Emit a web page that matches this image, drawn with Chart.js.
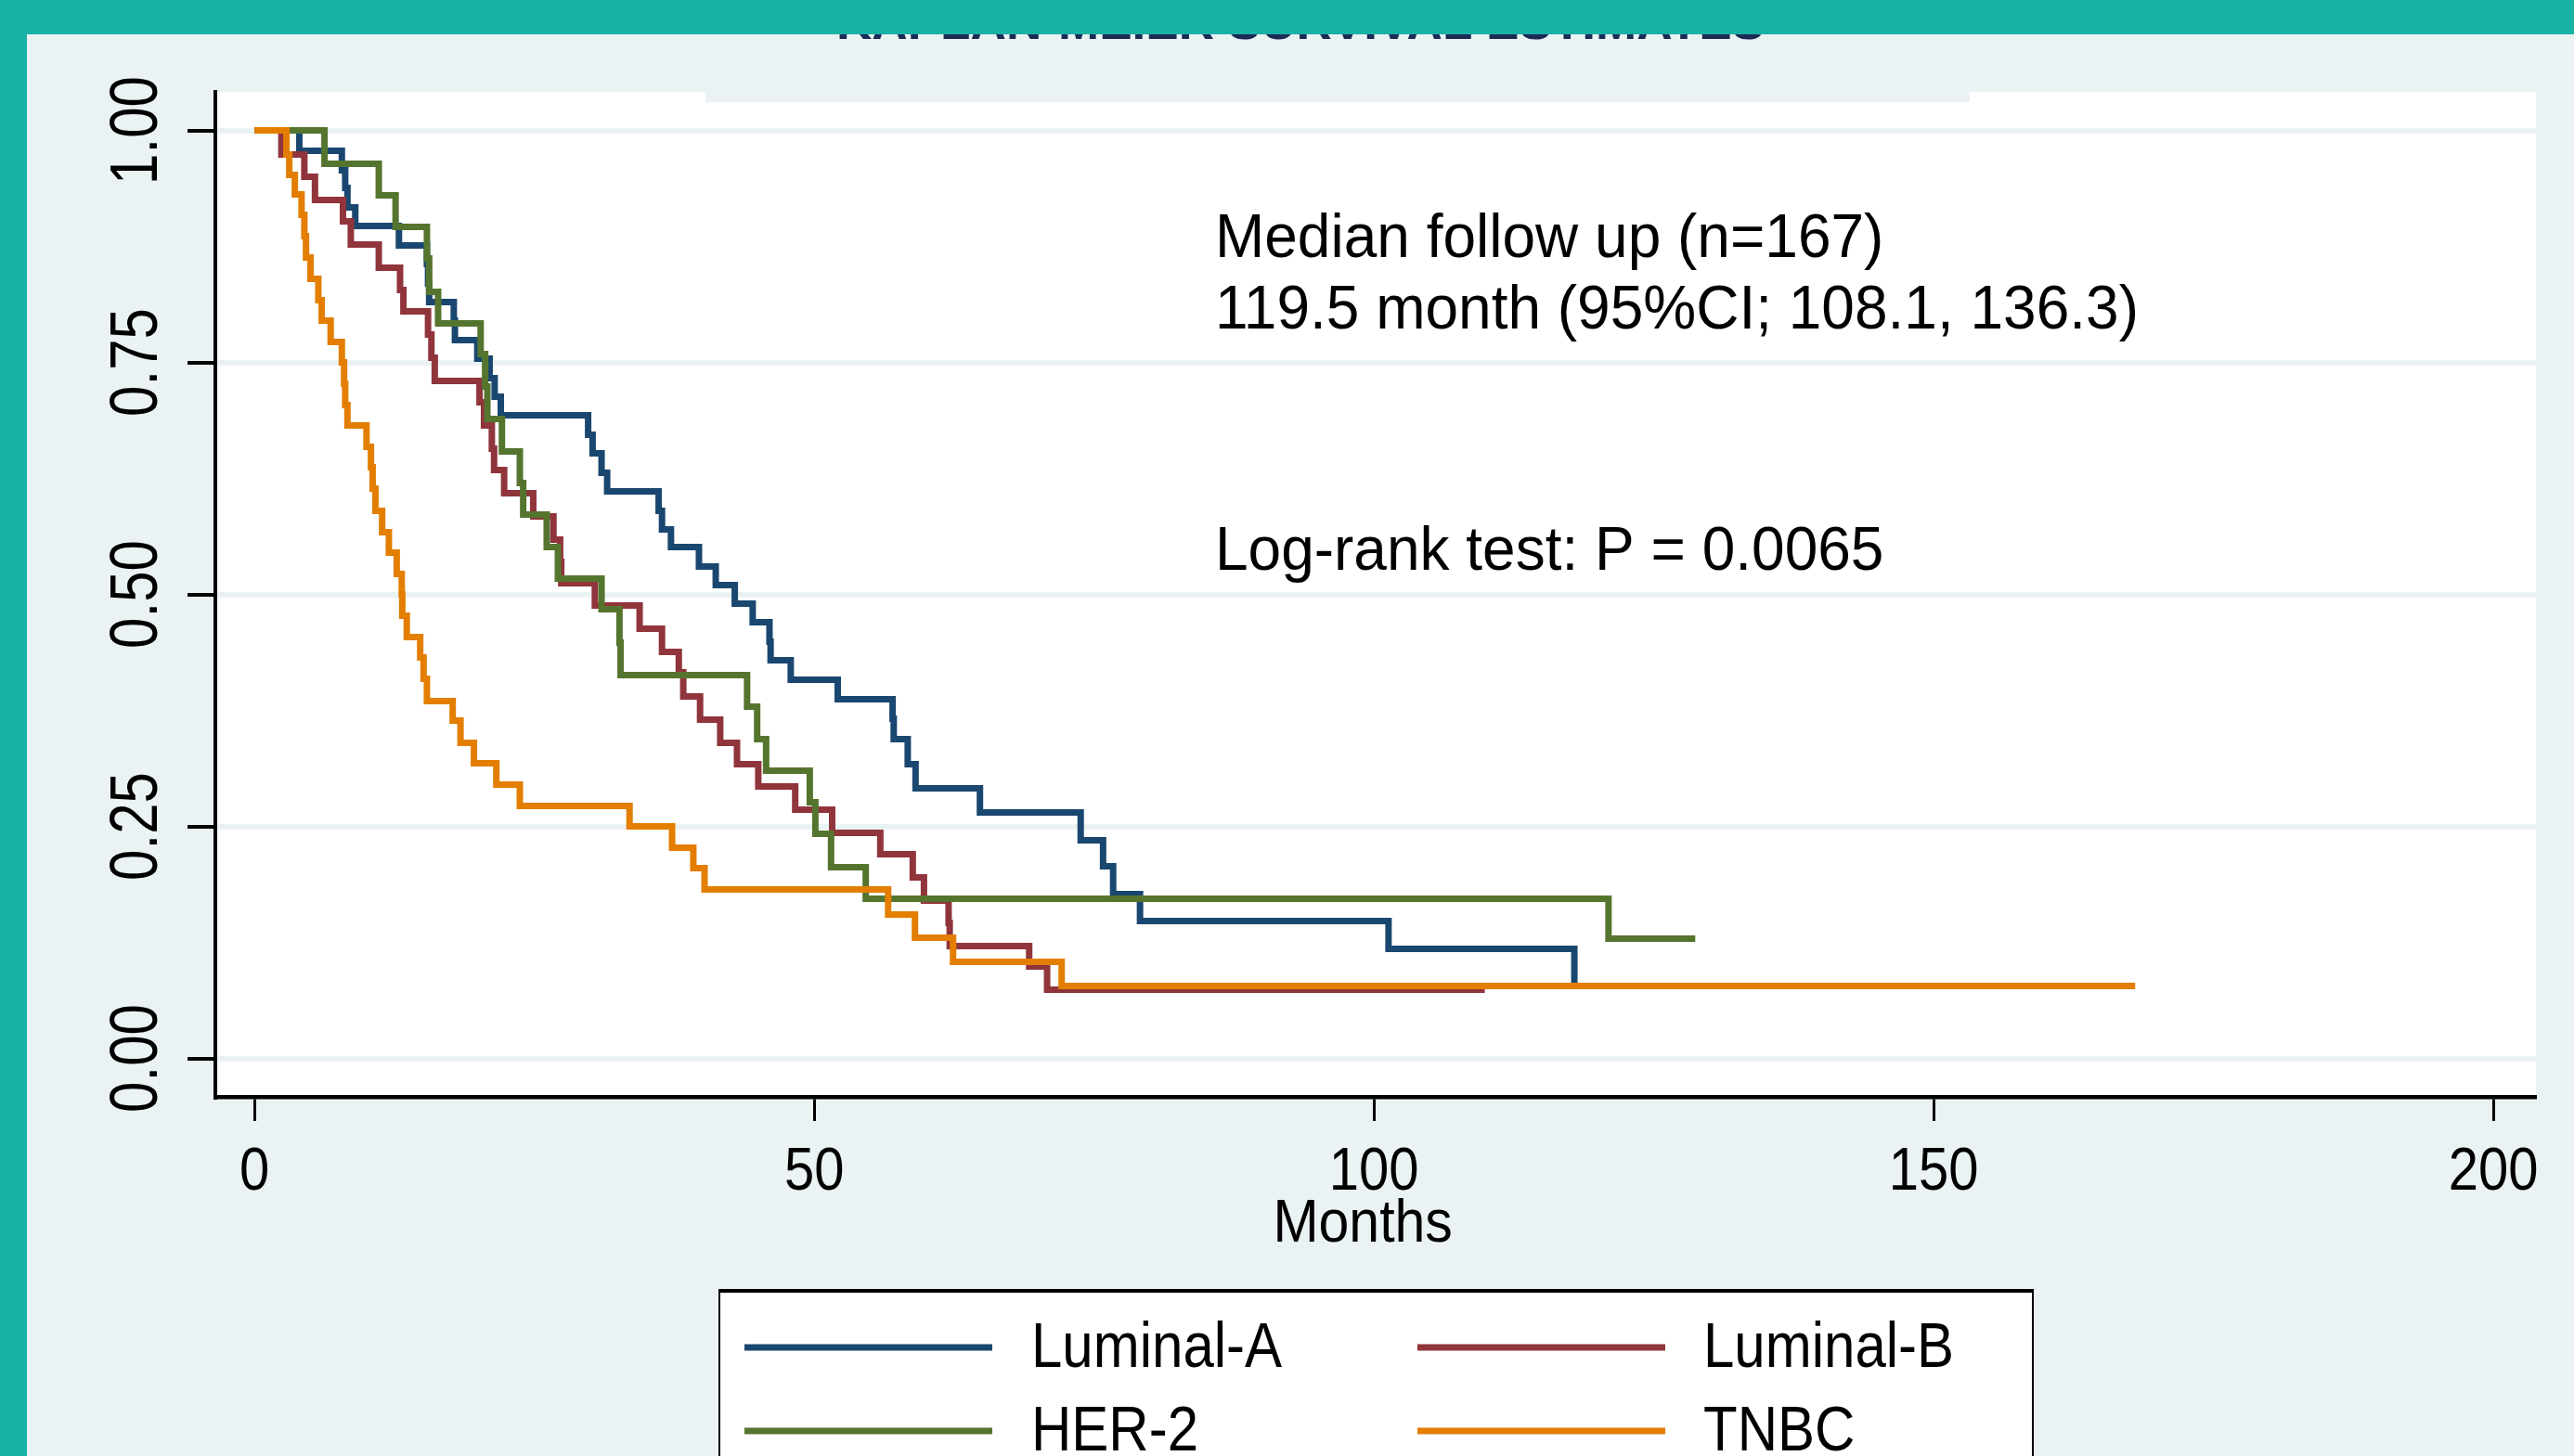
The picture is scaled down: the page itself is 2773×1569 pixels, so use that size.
<!DOCTYPE html>
<html>
<head>
<meta charset="utf-8">
<title>Kaplan-Meier survival by subtype</title>
<script src="https://cdn.jsdelivr.net/npm/chart.js@4.4.1/dist/chart.umd.min.js"></script>
<style>
    html, body { margin: 0; padding: 0; width: 2773px; height: 1569px; overflow: hidden; background: #eaf2f3; }
    #wrap { position: relative; width: 2773px; height: 1569px; }
    #km { position: absolute; left: 0; top: 0; z-index: 1; }
    .band { position: absolute; background: #17b1a5; z-index: 2; }
</style>
</head>
<body>
<div id="wrap">
    <canvas id="km" width="2773" height="1569"></canvas>
    <div class="band" style="left:0;top:0;width:2773px;height:37px"></div>
    <div class="band" style="left:0;top:0;width:29px;height:1569px"></div>
</div>
<script>
// values (months, survival probability)
const groups = ['Luminal-A', 'Luminal-B', 'HER-2', 'TNBC'];

const lumATime = [0, 4.0, 7.8, 8.1, 8.3, 9.0, 12.9, 15.4, 15.5, 15.6, 17.8, 17.9, 19.9, 21.0, 21.45, 22.0,
    29.8, 30.2, 31.0, 31.5, 36.1, 36.4, 37.2, 39.7, 41.2, 42.9, 44.5, 46.0, 46.1, 47.9, 52.1, 57.0, 57.1,
    58.35, 59.05, 64.8, 73.8, 75.8, 76.7, 79.1, 101.3, 117.9];
const lumASurv = [1, 0.978, 0.957, 0.938, 0.917, 0.897, 0.876, 0.856, 0.835, 0.815, 0.795, 0.774, 0.754, 0.733, 0.713, 0.693,
    0.672, 0.652, 0.631, 0.611, 0.590, 0.570, 0.551, 0.530, 0.510, 0.490, 0.470, 0.449, 0.429, 0.408, 0.387, 0.366, 0.344,
    0.317, 0.291, 0.265, 0.235, 0.207, 0.177, 0.148, 0.118, 0.078];

const lumBTime = [0, 2.4, 4.45, 5.4, 7.9, 8.6, 11.1, 13.0, 13.3, 15.5, 15.8, 16.1, 20.1, 20.5, 21.2, 21.4, 22.3,
    24.9, 26.7, 27.3, 27.4, 30.4, 34.4, 36.4, 37.9, 38.3, 39.8, 41.6, 43.1, 45.0, 48.3, 51.6, 55.9, 58.8, 59.8,
    62.0, 62.1, 69.2, 70.8, 109.9];
const lumBSurv = [1, 0.974, 0.950, 0.925, 0.902, 0.877, 0.852, 0.828, 0.805, 0.780, 0.755, 0.730, 0.707, 0.682, 0.657, 0.634, 0.609,
    0.584, 0.559, 0.535, 0.512, 0.488, 0.463, 0.438, 0.416, 0.390, 0.365, 0.340, 0.317, 0.293, 0.268, 0.243, 0.220, 0.195, 0.170,
    0.146, 0.121, 0.099, 0.074, 0.074];

const her2Time = [0, 6.25, 11.1, 12.6, 15.4, 15.6, 16.4, 20.2, 20.6, 20.8, 22.1, 23.7, 24.0, 26.1, 27.1, 31.0,
    32.6, 32.7, 44.0, 44.9, 45.7, 49.6, 50.1, 51.5, 54.6, 120.95, 128.7];
const her2Surv = [1, 0.964, 0.930, 0.896, 0.862, 0.826, 0.792, 0.759, 0.724, 0.689, 0.654, 0.620, 0.586, 0.551, 0.517, 0.484,
    0.448, 0.413, 0.379, 0.344, 0.310, 0.276, 0.242, 0.206, 0.172, 0.129, 0.129];

const tnbcTime = [0, 2.85, 3.1, 3.6, 4.2, 4.45, 4.6, 5.0, 5.7, 6.0, 6.8, 7.8, 8.0, 8.1, 8.3, 10.0, 10.4, 10.55, 10.8,
    11.4, 12.0, 12.7, 13.15, 13.2, 13.6, 14.8, 15.1, 15.4, 17.7, 18.4, 19.6, 21.6, 23.7, 33.5, 37.3, 39.2, 40.2,
    56.6, 59.0, 62.4, 72.1, 168.0];
const tnbcSurv = [1, 0.974, 0.952, 0.931, 0.909, 0.886, 0.863, 0.840, 0.817, 0.795, 0.772, 0.750, 0.727, 0.704, 0.682, 0.659, 0.637, 0.614, 0.590,
    0.567, 0.545, 0.522, 0.500, 0.477, 0.454, 0.432, 0.409, 0.385, 0.364, 0.340, 0.318, 0.295, 0.272, 0.250, 0.227, 0.205, 0.182,
    0.155, 0.130, 0.104, 0.078, 0.078];

const xTicks = [0, 50, 100, 150, 200];
const yTicks = [0, 0.25, 0.5, 0.75, 1];
const noteLines = ['Median follow up (n=167)', '119.5 month (95%CI; 108.1, 136.3)', 'Log-rank test: P = 0.0065'];
const noteY = [0.864, 0.787, 0.527];
const noteX = 85.8;

const colours = ['#1a476f', '#90353b', '#55752f', '#e37e00'];
const FONT = '"Liberation Sans", Arial, Helvetica, sans-serif';

function toPoints(times, surv) {
    return times.map((t, i) => ({ x: t, y: surv[i] }));
}

const series = [
    toPoints(lumATime, lumASurv),
    toPoints(lumBTime, lumBSurv),
    toPoints(her2Time, her2Surv),
    toPoints(tnbcTime, tnbcSurv)
];

// text a little taller than wide, like the reference
function tallText(ctx, text, x, y, size, sy, align, rot) {
    ctx.save();
    ctx.translate(x, y);
    if (rot) ctx.rotate(rot);
    ctx.scale(1, sy);
    ctx.font = size + 'px ' + FONT;
    ctx.textAlign = align;
    ctx.textBaseline = 'middle';
    ctx.fillText(text, 0, 0);
    ctx.restore();
}

// plot region, title strip, tick labels, notes and legend
const kmDecor = {
    id: 'kmDecor',
    beforeDraw(chart) {
        const ctx = chart.ctx;
        const a = chart.chartArea;
        ctx.save();
        ctx.fillStyle = '#ffffff';
        ctx.fillRect(a.left, a.top, a.right - a.left, a.bottom - a.top);
        ctx.fillStyle = '#eaf2f3';
        ctx.fillRect(760, a.top, 1362, 11);
        ctx.restore();
    },
    afterDraw(chart) {
        const ctx = chart.ctx;
        const xs = chart.scales.x;
        const ys = chart.scales.y;
        ctx.save();

        // title, mostly hidden under the top band
        ctx.fillStyle = '#1c2b55';
        ctx.font = 'bold 56px ' + FONT;
        const title = 'KAPLAN-MEIER SURVIVAL ESTIMATES';
        const w = ctx.measureText(title).width;
        ctx.font = 'bold ' + (56 * 1000 / w).toFixed(1) + 'px ' + FONT;
        ctx.textAlign = 'center';
        ctx.textBaseline = 'alphabetic';
        ctx.fillText(title, 1401, 42);

        ctx.fillStyle = '#000';
        // y tick labels, rotated
        yTicks.forEach(v => {
            tallText(ctx, v.toFixed(2), 149, ys.getPixelForValue(v), 60, 1.2, 'center', -Math.PI / 2);
        });
        // x tick labels
        xTicks.forEach(v => {
            tallText(ctx, String(v), xs.getPixelForValue(v), 1264, 58, 1.12, 'center', 0);
        });
        // x axis title
        tallText(ctx, 'Months', xs.getPixelForValue(99), 1320, 59, 1.1, 'center', 0);

        // notes inside the plot
        ctx.font = '64px ' + FONT;
        ctx.textAlign = 'left';
        ctx.textBaseline = 'alphabetic';
        noteLines.forEach((t, i) => {
            ctx.save();
            ctx.translate(xs.getPixelForValue(noteX), ys.getPixelForValue(noteY[i]));
            ctx.scale(1, 1.03);
            ctx.fillText(t, 0, 0);
            ctx.restore();
        });

        // legend box
        ctx.fillStyle = '#ffffff';
        ctx.fillRect(775, 1390, 1415, 260);
        ctx.strokeStyle = '#000';
        ctx.lineWidth = 2;
        ctx.strokeRect(775, 1390, 1415, 260);
        ctx.lineWidth = 4;
        ctx.beginPath();
        ctx.moveTo(775, 1391);
        ctx.lineTo(2190, 1391);
        ctx.stroke();

        const lineX = [802, 1527];
        const textX = [1111, 1835];
        const rowY = [1452, 1542];
        chart.data.datasets.forEach((ds, i) => {
            const c = i % 2;
            const r = Math.floor(i / 2);
            ctx.strokeStyle = ds.borderColor;
            ctx.lineWidth = 7;
            ctx.beginPath();
            ctx.moveTo(lineX[c], rowY[r]);
            ctx.lineTo(lineX[c] + 267, rowY[r]);
            ctx.stroke();
            ctx.fillStyle = '#000';
            tallText(ctx, ds.label, textX[c], rowY[r] + 2, 60, 1.14, 'left', 0);
        });

        ctx.restore();
    }
};

const ctx = document.getElementById('km').getContext('2d');
new Chart(ctx, {
    type: 'line',
    data: {
        datasets: groups.map((g, i) => ({
            label: g,
            data: series[i],
            borderColor: colours[i],
            backgroundColor: colours[i],
            borderWidth: 7,
            pointRadius: 0,
            stepped: true,
            fill: false,
            borderCapStyle: 'butt',
            borderJoinStyle: 'miter',
            order: groups.length - i
        }))
    },
    options: {
        responsive: false,
        animation: false,
        devicePixelRatio: 1,
        layout: { padding: { left: 0, top: 99, right: 41, bottom: 357 } },
        plugins: {
            legend: { display: false },
            tooltip: { enabled: false },
            title: { display: false }
        },
        scales: {
            x: {
                type: 'linear',
                min: -3.5,
                max: 203.8,
                afterBuildTicks: s => { s.ticks = xTicks.map(v => ({ value: v })); },
                afterFit: s => { s.height = 30; },
                grid: {
                    drawOnChartArea: false,
                    drawTicks: true,
                    tickLength: 26,
                    tickColor: '#000',
                    tickWidth: 3
                },
                border: { display: true, color: '#000', width: 4.5 },
                ticks: { display: false }
            },
            y: {
                type: 'linear',
                min: -0.0415,
                max: 1.0415,
                afterBuildTicks: s => { s.ticks = yTicks.map(v => ({ value: v })); },
                afterFit: s => { s.width = 232; },
                grid: {
                    color: '#eaf2f3',
                    lineWidth: 6,
                    drawTicks: true,
                    tickLength: 30,
                    tickColor: '#000',
                    tickWidth: 4
                },
                border: { display: true, color: '#000', width: 4 },
                ticks: { display: false }
            }
        }
    },
    plugins: [kmDecor]
});
</script>
</body>
</html>
